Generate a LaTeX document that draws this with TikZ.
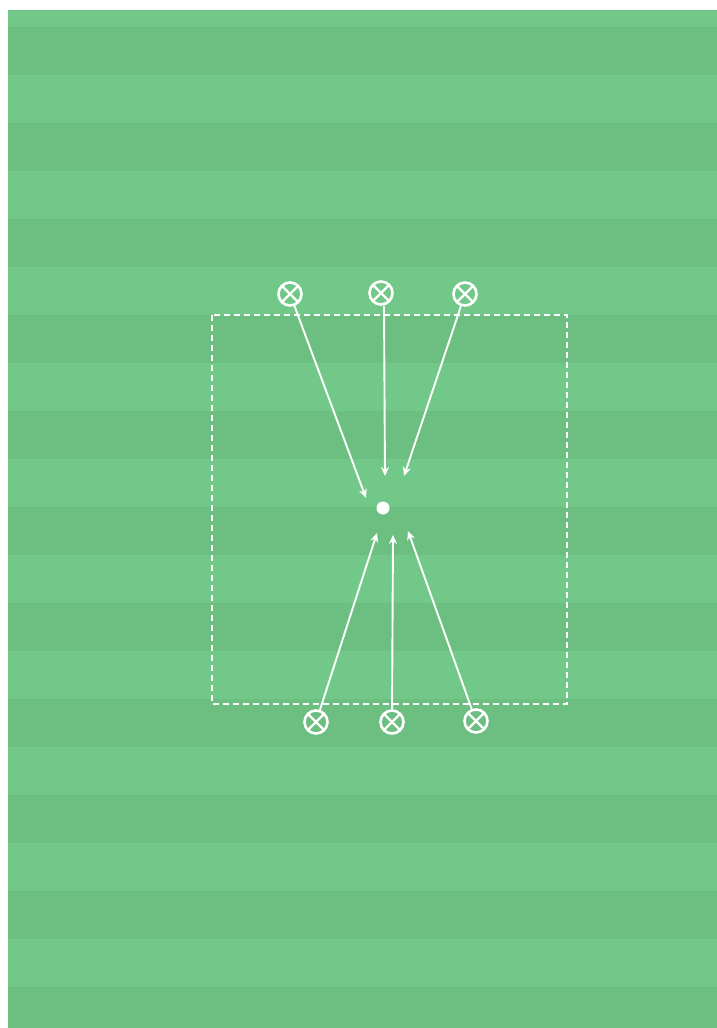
\documentclass[tikz,border=0pt]{standalone}
\usetikzlibrary{arrows.meta}
\definecolor{lightturf}{RGB}{114,200,136}
\definecolor{darkturf}{RGB}{108,190,129}
\begin{document}
\begin{tikzpicture}[x=1pt,y=-1pt,
  player/.style={circle,draw=white,line width=2.6pt,minimum size=23pt,inner sep=0pt,
    path picture={\draw[white,line width=2.4pt]
      ([shift={(3.2pt,3.2pt)}]path picture bounding box.south west) -- ([shift={(-3.2pt,-3.2pt)}]path picture bounding box.north east)
      ([shift={(3.2pt,-3.2pt)}]path picture bounding box.north west) -- ([shift={(-3.2pt,3.2pt)}]path picture bounding box.south east);}},
  run/.style={draw=white,line width=1.9pt,-{Stealth[length=9pt,width=8pt]}},
  zone/.style={draw=white,line width=1.5pt,dash pattern=on 6pt off 4pt}]
\useasboundingbox (0,0) rectangle (717,1028);
\fill[white] (0,0) rectangle (717,1028);
\fill[lightturf] (8,10) rectangle (717,1028);
\foreach \y in {27,123,...,987}{
  \fill[darkturf] (8,\y) rectangle (717,\y+48);
}
\draw[zone] (212,315) rectangle (567,704);
\node[circle,fill=white,minimum size=13pt,inner sep=0pt] (ball) at (383,508) {};
\node[player] (t1) at (290,294) {};
\node[player] (t2) at (381,293) {};
\node[player] (t3) at (465,294) {};
\node[player] (b1) at (316,722) {};
\node[player] (b2) at (392,722) {};
\node[player] (b3) at (476,721) {};
\coordinate (et1) at (366,498);
\coordinate (et2) at (385,476);
\coordinate (et3) at (404,476);
\coordinate (eb1) at (377,533);
\coordinate (eb2) at (393,535);
\coordinate (eb3) at (408,531);
\draw[run] (t1) -- (et1);
\draw[run] (t2.south) ++(3,0) -- (et2);
\draw[run] (t3) -- (et3);
\draw[run] (b1) -- (eb1);
\draw[run] (b2) -- (eb2);
\draw[run] (b3) -- (eb3);
\end{tikzpicture}
\end{document}
